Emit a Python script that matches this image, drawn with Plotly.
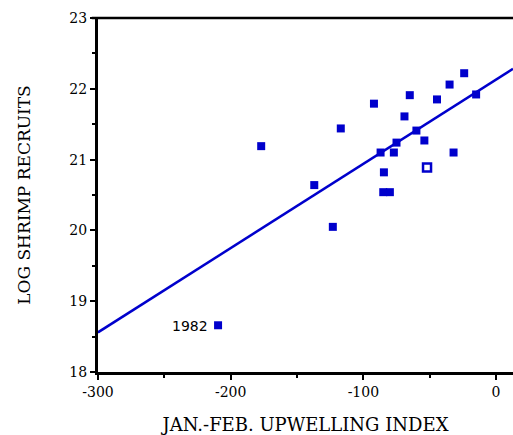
import plotly.graph_objects as go

upwelling = [-177, -209.5, -137, -123, -117, -92, -87, -84.5, -85, -80, -77, -75,
             -69, -65, -60, -54, -32, -44.5, -35, -24, -15]
log_recruits = [21.19, 18.66, 20.64, 20.05, 21.44, 21.79, 21.10, 20.82, 20.54, 20.54,
                21.10, 21.24, 21.61, 21.91, 21.41, 21.27, 21.10, 21.85, 22.06, 22.22, 21.92]
open_x = [-52]
open_y = [20.89]
fit_intercept = 22.13
fit_slope = 0.0119
x_range = [-300, 12.8]
y_range = [18, 23]
x_ticks = [-300, -200, -100, 0]
x_tick_labels = ["-300", "-200", "-100", "0"]
y_ticks = [18, 19, 20, 21, 22, 23]
label_year = "1982"
label_x = -209.5
label_y = 18.66

blue = "#0000CC"
fig = go.Figure()
fit_x = list(x_range)
fit_y = [fit_intercept + fit_slope * v for v in fit_x]
fig.add_trace(go.Scatter(x=fit_x, y=fit_y, mode="lines",
                         line=dict(color=blue, width=2.5), hoverinfo="skip"))
fig.add_trace(go.Scatter(x=upwelling, y=log_recruits, mode="markers",
                         marker=dict(symbol="square", size=8, color=blue,
                                     line=dict(width=0))))
fig.add_trace(go.Scatter(x=open_x, y=open_y, mode="markers",
                         marker=dict(symbol="square", size=8, color="white",
                                     line=dict(width=2.5, color=blue))))
fig.add_annotation(x=label_x, y=label_y, text=label_year, showarrow=False,
                   xanchor="right", xshift=-8, yshift=-1,
                   font=dict(family="DejaVu Sans", size=14, color="black"))
fig.add_shape(type="line", xref="paper", yref="paper", x0=-0.015, x1=1, y0=1, y1=1,
              line=dict(color="black", width=2.5))

fig.update_layout(
    width=513, height=435, showlegend=False,
    margin=dict(l=98, r=0, t=18, b=63),
    plot_bgcolor="white", paper_bgcolor="white",
    font=dict(family="DejaVu Serif", size=14, color="black"),
    xaxis=dict(range=x_range, tickvals=x_ticks, ticktext=x_tick_labels, ticks="outside",
               ticklen=5, tickwidth=2, tickcolor="black",
               showline=True, linewidth=3, linecolor="black",
               showgrid=False, zeroline=False,
               minor=dict(tickvals=[-250, -150, -50], ticks="outside", ticklen=3,
                          tickwidth=2, tickcolor="black"),
               title=dict(text="JAN.-FEB. UPWELLING INDEX",
                          font=dict(family="DejaVu Serif", size=18), standoff=22)),
    yaxis=dict(range=y_range, tickvals=y_ticks, ticks="outside",
               ticklen=5, tickwidth=2, tickcolor="black",
               showline=True, linewidth=3, linecolor="black",
               showgrid=False, zeroline=False,
               minor=dict(tickvals=[18.5, 19.5, 20.5, 21.5, 22.5], ticks="outside",
                          ticklen=3, tickwidth=2, tickcolor="black"),
               title=dict(text="LOG SHRIMP RECRUITS",
                          font=dict(family="DejaVu Serif", size=17), standoff=35)),
)
fig.write_html("out.html", config={"displayModeBar": False},
               post_script="document.body.style.margin='0';document.body.style.overflow='hidden';")
